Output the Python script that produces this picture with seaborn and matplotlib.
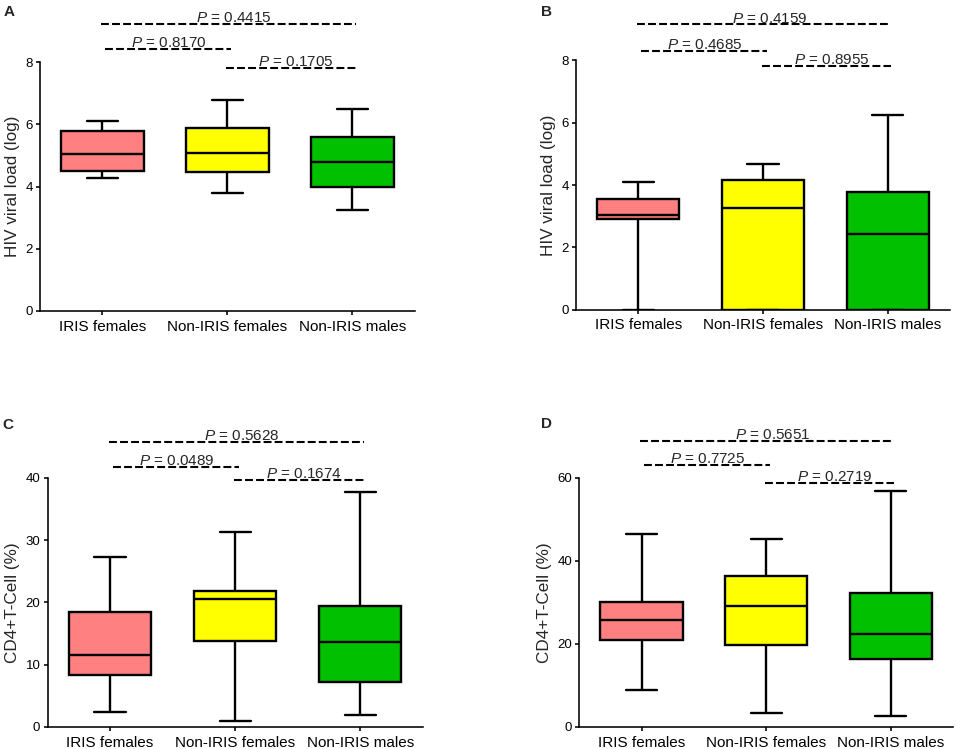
import numpy as np
import pandas as pd
import matplotlib
matplotlib.use("Agg")
import matplotlib.pyplot as plt
import seaborn as sns

# ---------------- data ----------------
groups = ["IRIS females", "Non-IRIS females", "Non-IRIS males"]
colors = ["#FF8080", "#FFFF00", "#00C000"]

# five-number summaries: [min, Q1, median, Q3, max]
a_iris_f = [4.28, 4.50, 5.05, 5.77, 6.09]
a_non_f = [3.78, 4.46, 5.08, 5.87, 6.78]
a_non_m = [3.26, 4.00, 4.80, 5.58, 6.50]

b_iris_f = [0.0, 2.92, 3.05, 3.54, 4.09]
b_non_f = [0.0, 0.0, 3.25, 4.17, 4.68]
b_non_m = [0.0, 0.0, 2.43, 3.77, 6.25]

c_iris_f = [2.35, 8.4, 11.5, 18.4, 27.2]
c_non_f = [0.9, 13.75, 20.5, 21.9, 31.3]
c_non_m = [1.98, 7.2, 13.6, 19.4, 37.65]

d_iris_f = [8.9, 21.0, 25.75, 30.1, 46.4]
d_non_f = [3.3, 19.7, 29.2, 36.4, 45.2]
d_non_m = [2.6, 16.4, 22.3, 32.2, 56.8]

# p-values for comparisons (0 vs 1), (1 vs 2), (0 vs 2)
p_a = ["0.8170", "0.1705", "0.4415"]
p_b = ["0.4685", "0.8955", "0.4159"]
p_c = ["0.0489", "0.1674", "0.5628"]
p_d = ["0.7725", "0.2719", "0.5651"]

ylabels = ["HIV viral load (log)", "HIV viral load (log)",
           "CD4+T-Cell (%)", "CD4+T-Cell (%)"]
yticks_list = [[0, 2, 4, 6, 8], [0, 2, 4, 6, 8],
               [0, 10, 20, 30, 40], [0, 20, 40, 60]]
letters = ["A", "B", "C", "D"]

# ---------------- style ----------------
sns.set_style("ticks")
plt.rcParams["font.family"] = ["Liberation Sans", "DejaVu Sans"]
plt.rcParams["mathtext.fontset"] = "custom"
plt.rcParams["mathtext.rm"] = "Liberation Sans"
plt.rcParams["mathtext.it"] = "Liberation Sans:italic"

fig = plt.figure(figsize=(9.57, 7.49), dpi=100)

axes_pos = [
    [0.0418, 0.5848, 0.3918, 0.3324],
    [0.6019, 0.5865, 0.3908, 0.3330],
    [0.0497, 0.0294, 0.3920, 0.3328],
    [0.6053, 0.0294, 0.3905, 0.3328],
]
letter_pos = [(0.004, 0.993), (0.565, 0.993), (0.003, 0.442), (0.565, 0.443)]

panels = [
    ([a_iris_f, a_non_f, a_non_m], p_a, (0, 8), [8.42, 7.80, 9.23]),
    ([b_iris_f, b_non_f, b_non_m], p_b, (0, 8), [8.29, 7.82, 9.15]),
    ([c_iris_f, c_non_f, c_non_m], p_c, (0, 40), [41.7, 39.6, 45.7]),
    ([d_iris_f, d_non_f, d_non_m], p_d, (0, 60), [63.1, 58.7, 68.8]),
]

pairs_x = [(0.02, 1.03), (0.99, 2.03), (-0.01, 2.03)]
text_x = [0.53, 1.55, 1.05]

for i, (vals, pvals, ylim, bar_y) in enumerate(panels):
    ax = fig.add_axes(axes_pos[i])
    df = pd.DataFrame({
        "group": np.repeat(groups, [len(v) for v in vals]),
        "value": np.concatenate(vals),
    })
    sns.boxplot(data=df, x="group", y="value", hue="group", order=groups,
                hue_order=groups, palette=colors, saturation=1,
                whis=(0, 100), width=0.66, linewidth=1.7, linecolor="black",
                legend=False, ax=ax, capwidths=0.25)
    ax.set_xlim(-0.5, 2.5)
    ax.set_ylim(*ylim)
    ax.set_yticks(yticks_list[i])
    ax.set_xlabel("")
    ax.set_ylabel(ylabels[i], fontsize=12.3, labelpad=4)
    for s in ["top", "right"]:
        ax.spines[s].set_visible(False)
    for s in ["left", "bottom"]:
        ax.spines[s].set_linewidth(1.15)
        ax.spines[s].set_color("black")
    ax.tick_params(axis="y", labelsize=9.5, length=3.2, width=1.15, pad=2,
                   colors="black")
    ax.tick_params(axis="x", labelsize=11, length=3.2, width=1.15, pad=3,
                   colors="black")

    for (x0, x1), ty, tx, p in zip(pairs_x, bar_y, text_x, pvals):
        ax.plot([x0, x1], [ty, ty], color="black", lw=1.5,
                linestyle=(0, (3.8, 1.5)), clip_on=False,
                solid_capstyle="butt", dash_capstyle="butt")
        ax.annotate(r"$\it{P}$ = " + p, xy=(tx, ty), xytext=(0, 1.3),
                    textcoords="offset points", ha="center", va="baseline",
                    fontsize=11, annotation_clip=False)

    fig.text(letter_pos[i][0], letter_pos[i][1], letters[i],
             fontsize=11, fontweight="bold", va="top", ha="left")

fig.savefig("out.png", dpi=100)
